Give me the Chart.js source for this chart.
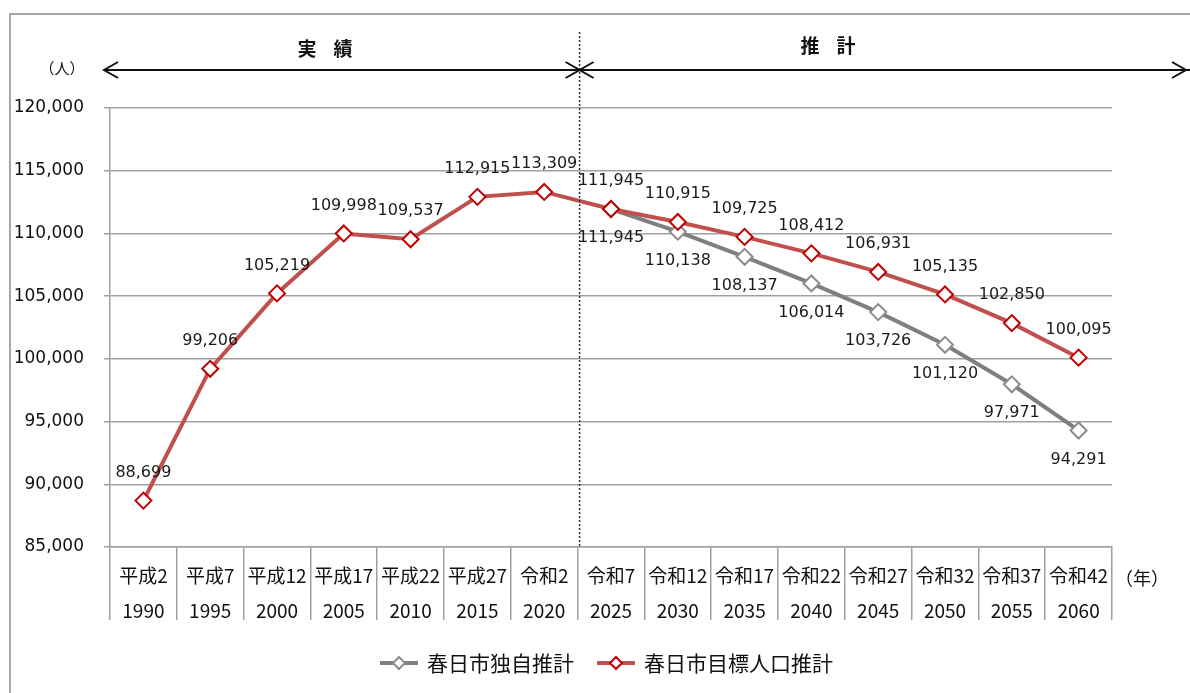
<!DOCTYPE html>
<html>
<head>
<meta charset="utf-8">
<script src="https://cdn.jsdelivr.net/npm/chart.js@4.4.0/dist/chart.umd.min.js"></script>
<style>
  html, body { margin: 0; padding: 0; background: #fff; }
  #wrap { width: 1190px; height: 693px; }
</style>
</head>
<body>
<div id="wrap"><canvas id="chart"></canvas></div>
<script>
var eraLabels = ["平成2", "平成7", "平成12", "平成17", "平成22", "平成27", "令和2",
  "令和7", "令和12", "令和17", "令和22", "令和27", "令和32", "令和37", "令和42"];
var yearLabels = ["1990", "1995", "2000", "2005", "2010", "2015", "2020",
  "2025", "2030", "2035", "2040", "2045", "2050", "2055", "2060"];

// 春日市独自推計
var dokuji = [null, null, null, null, null, null, null,
  111945, 110138, 108137, 106014, 103726, 101120, 97971, 94291];
// 春日市目標人口推計
var mokuhyo = [88699, 99206, 105219, 109998, 109537, 112915, 113309,
  111945, 110915, 109725, 108412, 106931, 105135, 102850, 100095];

var seriesNames = ["春日市独自推計", "春日市目標人口推計"];
var yMin = 85000, yMax = 120000, yStep = 5000;

var RED = "#c0504d", RED_EDGE = "#c00000";
var GREY = "#7f7f7f", GREY_EDGE = "#8c8c8c";
var CJK = "'Noto Sans CJK JP', sans-serif";
var NUM = "'DejaVu Sans', sans-serif";

function diamond(ctx, x, y, r, edge) {
  ctx.beginPath();
  ctx.moveTo(x, y - r);
  ctx.lineTo(x + r, y);
  ctx.lineTo(x, y + r);
  ctx.lineTo(x - r, y);
  ctx.closePath();
  ctx.fillStyle = "#fff";
  ctx.fill();
  ctx.lineWidth = 2;
  ctx.strokeStyle = edge;
  ctx.stroke();
}

var overlay = {
  id: "overlay",
  afterDatasetsDraw: function (chart) {
    var ctx = chart.ctx;
    var area = chart.chartArea;
    var xs = chart.scales.x;
    ctx.save();

    // frame
    ctx.strokeStyle = "#a6a6a6";
    ctx.lineWidth = 2;
    ctx.beginPath();
    ctx.moveTo(10, 693);
    ctx.lineTo(10, 14);
    ctx.lineTo(1190, 14);
    ctx.stroke();

    // dotted divider between 実績 and 推計
    var divX = (xs.getPixelForValue(6) + xs.getPixelForValue(7)) / 2 + 2;
    ctx.strokeStyle = "#333";
    ctx.lineWidth = 1.5;
    ctx.setLineDash([2, 2]);
    ctx.beginPath();
    ctx.moveTo(divX, 32);
    ctx.lineTo(divX, area.bottom);
    ctx.stroke();
    ctx.setLineDash([]);

    // arrows
    var ay = 70;
    ctx.strokeStyle = "#111";
    ctx.lineWidth = 2;
    ctx.beginPath();
    ctx.moveTo(104, ay);
    ctx.lineTo(1190, ay);
    ctx.stroke();
    function head(x, dir) {
      ctx.beginPath();
      ctx.moveTo(x + dir * 14, ay - 8);
      ctx.lineTo(x, ay);
      ctx.lineTo(x + dir * 14, ay + 8);
      ctx.stroke();
    }
    head(104, 1);
    head(divX, -1);
    head(divX, 1);
    head(1186, -1);

    // section titles
    ctx.fillStyle = "#111";
    ctx.textAlign = "center";
    ctx.textBaseline = "middle";
    ctx.font = "bold 19px " + CJK;
    ctx.fillText("実", 307, 49);
    ctx.fillText("績", 343, 49);
    ctx.fillText("推", 810, 46);
    ctx.fillText("計", 846, 46);
    ctx.font = "15px " + CJK;
    ctx.fillText("（人）", 62, 68);
    ctx.font = "18px " + CJK;
    ctx.fillText("（年）", 1142, 578);

    // data labels
    ctx.font = "16px " + NUM;
    ctx.fillStyle = "#1a1a1a";
    chart.data.datasets.forEach(function (ds, di) {
      var meta = chart.getDatasetMeta(di);
      meta.data.forEach(function (pt, i) {
        var v = ds.data[i];
        if (v === null) return;
        var dy = ds.labelBelow ? 29 : -28;
        ctx.fillText(v.toLocaleString("en-US"), pt.x, pt.y + dy);
      });
    });

    // legend
    var ly = 663;
    var items = [
      { x: 380, color: GREY, edge: GREY_EDGE, text: seriesNames[0] },
      { x: 597, color: RED, edge: RED_EDGE, text: seriesNames[1] }
    ];
    ctx.font = "21px " + CJK;
    ctx.textAlign = "left";
    items.forEach(function (it) {
      ctx.strokeStyle = it.color;
      ctx.lineWidth = 4;
      ctx.beginPath();
      ctx.moveTo(it.x, ly);
      ctx.lineTo(it.x + 38, ly);
      ctx.stroke();
      diamond(ctx, it.x + 19, ly, 6, it.edge);
      ctx.fillStyle = "#111";
      ctx.fillText(it.text, it.x + 47, ly);
    });

    ctx.restore();
  }
};

var labels = eraLabels.map(function (e, i) { return [e, yearLabels[i]]; });

new Chart(document.getElementById("chart"), {
  type: "line",
  data: {
    labels: labels,
    datasets: [
      {
        label: seriesNames[0],
        data: dokuji,
        borderColor: GREY,
        borderWidth: 4,
        pointStyle: "rectRot",
        pointRadius: 8,
        pointBorderWidth: 2,
        pointBorderColor: GREY_EDGE,
        pointBackgroundColor: "#fff",
        labelBelow: true,
        order: 1
      },
      {
        label: seriesNames[1],
        data: mokuhyo,
        borderColor: RED,
        borderWidth: 4,
        pointStyle: "rectRot",
        pointRadius: 8,
        pointBorderWidth: 2,
        pointBorderColor: RED_EDGE,
        pointBackgroundColor: "#fff",
        order: 0
      }
    ]
  },
  options: {
    responsive: true,
    maintainAspectRatio: false,
    animation: false,
    layout: { padding: { top: 108, right: 78, bottom: 73, left: 0 } },
    plugins: { legend: { display: false }, tooltip: { enabled: false } },
    scales: {
      x: {
        offset: true,
        grid: { offset: true, drawOnChartArea: false, drawTicks: true, tickLength: 73, color: "#a0a0a0", lineWidth: 1.5 },
        border: { color: "#a0a0a0", width: 1.5 },
        ticks: {
          autoSkip: false, maxRotation: 0, padding: -61, color: "#111",
          font: { family: CJK, size: 19, lineHeight: 1.8 }
        },
        afterFit: function (s) { s.height = 73; }
      },
      y: {
        min: yMin, max: yMax,
        grid: { color: "#a0a0a0", lineWidth: 1.5, tickLength: 6 },
        border: { color: "#a0a0a0", width: 1.5 },
        ticks: {
          stepSize: yStep, padding: 20, color: "#111",
          font: { family: NUM, size: 17 },
          callback: function (v) { return v.toLocaleString("en-US"); }
        },
        afterFit: function (s) { s.width = 110; }
      }
    }
  },
  plugins: [overlay]
});
</script>
</body>
</html>
